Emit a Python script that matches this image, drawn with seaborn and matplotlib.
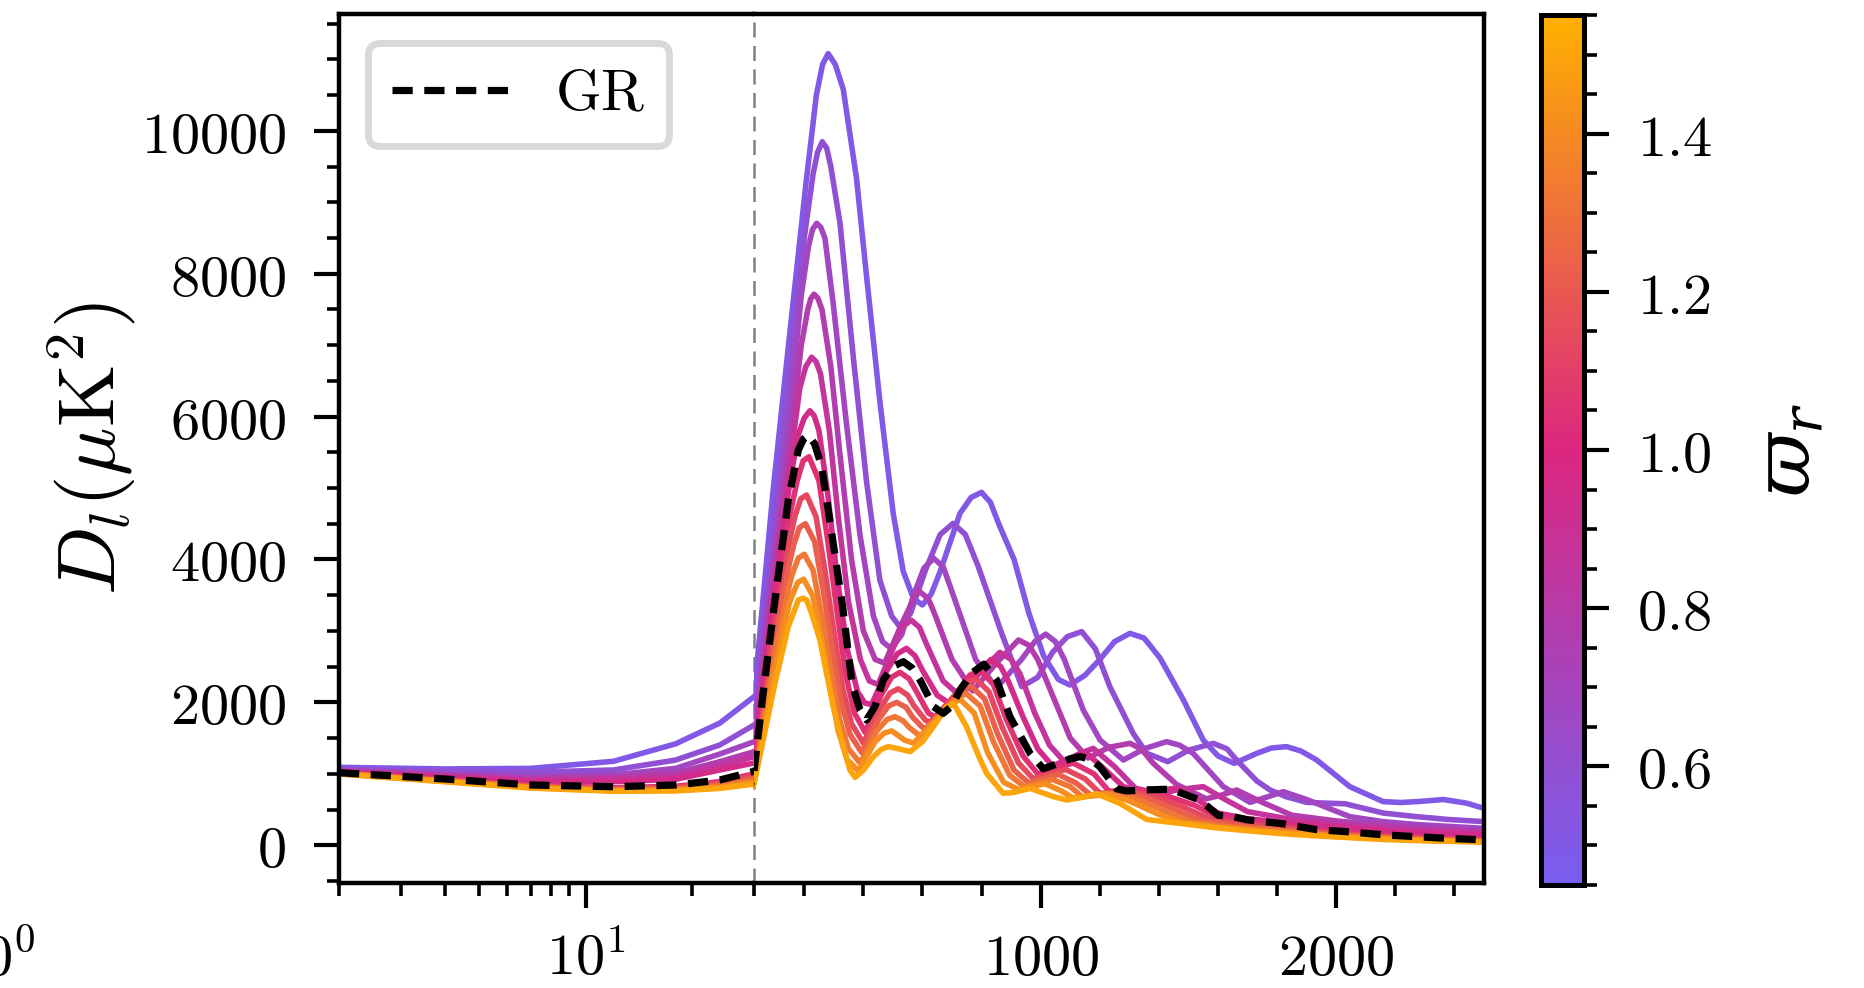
import numpy as np
import pandas as pd
import matplotlib
matplotlib.use("Agg")
import matplotlib.pyplot as plt
import seaborn as sns
from matplotlib.colors import LinearSegmentedColormap, Normalize
from matplotlib.cm import ScalarMappable
from matplotlib.ticker import FixedLocator, FixedFormatter, MultipleLocator, NullFormatter

# ---------------- data ----------------
varpi = [0.50, 0.59, 0.68, 0.77, 0.86, 0.95, 1.05, 1.14, 1.23, 1.32, 1.41, 1.50]

ell_low = [2, 4, 7, 12, 18, 24]

low_c1 = [1091, 1068, 1076, 1175, 1420, 1710]
ell_c1 = [30, 60, 95, 150, 206, 241, 262, 281, 305, 332, 377, 411, 456, 501, 535, 570, 600, 630, 660, 727,
          765, 800, 830, 860, 910, 960, 1010, 1060, 1099, 1150, 1200, 1250, 1302, 1350, 1404, 1483, 1550, 1600,
          1655, 1731, 1780, 1832, 1880, 1934, 2046, 2159, 2220, 2290, 2362, 2440, 2500]
dl_c1 = [2079, 3420, 4983, 7127, 9270, 10500, 10930, 11083, 10930, 10583, 9333, 7958, 6208, 4646, 3833, 3450,
         3364, 3520, 3833, 4646, 4870, 4940, 4800, 4480, 4000, 3250, 2650, 2320, 2243, 2380, 2600, 2850, 2966,
         2900, 2620, 2033, 1473, 1250, 1146, 1286, 1360, 1380, 1320, 1193, 820, 610, 598, 615, 640, 590, 516]

low_c2 = [1062, 1039, 1023, 1053, 1193, 1403]
ell_c2 = [30, 60, 100, 150, 200, 230, 245, 261, 276, 290, 321, 366, 411, 456, 496, 525, 560, 610, 660, 704,
          745, 789, 868, 936, 990, 1040, 1090, 1139, 1185, 1234, 1313, 1359, 1430, 1500, 1584, 1630, 1663,
          1731, 1776, 1830, 1900, 1960, 2030, 2100, 2159, 2272, 2380, 2500]
dl_c2 = [1683, 3000, 4500, 6700, 8500, 9400, 9700, 9849, 9760, 9500, 8708, 6833, 5083, 3708, 3208, 3050, 3250,
         3850, 4350, 4506, 4350, 3900, 2966, 2220, 2350, 2700, 2920, 2990, 2750, 2220, 1566, 1286, 1170, 1330,
         1426, 1350, 1193, 900, 773, 680, 600, 590, 580, 510, 450, 400, 360, 330]

low_c3 = [1046, 996, 960, 985, 1076, 1277]
ell_c3 = [30, 60, 100, 150, 190, 215, 228, 242, 256, 270, 298, 343, 389, 434, 465, 495, 530, 570, 605, 638,
          670, 700, 780, 850, 935, 980, 1017, 1050, 1080, 1144, 1201, 1280, 1350, 1426, 1470, 1516, 1618,
          1708, 1770, 1821, 1900, 2046, 2159, 2272, 2500]
dl_c3 = [1449, 2700, 4100, 6000, 7700, 8400, 8620, 8707, 8650, 8500, 7583, 5895, 4333, 3208, 2850, 2750, 2950,
         3500, 3880, 4016, 3900, 3550, 2600, 2200, 2600, 2850, 2955, 2850, 2600, 1893, 1473, 1193, 1350, 1450,
         1400, 1286, 820, 600, 680, 750, 640, 400, 330, 290, 236]

low_c4 = [1036, 977, 935, 955, 1007, 1170]
ell_c4 = [30, 60, 100, 150, 190, 212, 222, 233, 246, 260, 290, 320, 360, 400, 440, 472, 530, 584, 620, 640,
          700, 770, 850, 925, 960, 990, 1050, 1100, 1160, 1230, 1302, 1340, 1380, 1460, 1560, 1610, 1663,
          1750, 1850, 2000, 2200, 2500]
dl_c4 = [1309, 2500, 3900, 5600, 7000, 7500, 7650, 7715, 7660, 7500, 6700, 5500, 4000, 3000, 2600, 2550, 3100,
         3573, 3450, 3250, 2600, 2160, 2550, 2873, 2800, 2600, 2000, 1500, 1220, 1370, 1426, 1350, 1150, 850,
         650, 700, 773, 600, 420, 340, 260, 190]

low_c5 = [1030, 964, 912, 925, 960, 1110]
ell_c5 = [30, 60, 100, 150, 185, 205, 225, 240, 255, 285, 315, 350, 390, 420, 450, 500, 530, 562, 590, 610,
          670, 730, 800, 862, 900, 930, 980, 1030, 1080, 1130, 1178, 1250, 1320, 1400, 1470, 1550, 1620,
          1700, 1850, 2000, 2200, 2500]
dl_c5 = [1239, 2350, 3700, 5300, 6400, 6700, 6832, 6770, 6600, 5800, 4600, 3400, 2600, 2300, 2250, 2750, 3050,
         3150, 3050, 2850, 2300, 2080, 2450, 2700, 2600, 2400, 1850, 1400, 1170, 1280, 1356, 1100, 800, 720,
         780, 820, 650, 470, 360, 290, 220, 166]

low_c6 = [1024, 950, 888, 890, 923, 1053]
ell_c6 = [30, 60, 100, 150, 180, 200, 219, 234, 250, 280, 310, 345, 380, 405, 428, 480, 515, 546, 575, 600,
          650, 700, 770, 832, 865, 890, 940, 990, 1040, 1100, 1155, 1220, 1280, 1350, 1400, 1460, 1530,
          1600, 1700, 1850, 2000, 2200, 2500]
dl_c6 = [1151, 2200, 3550, 5050, 5750, 5980, 6082, 6010, 5800, 4900, 3800, 2750, 2150, 1990, 1970, 2450, 2680,
         2756, 2650, 2450, 2100, 1960, 2350, 2600, 2500, 2300, 1800, 1350, 1110, 1220, 1290, 1050, 820, 740,
         770, 797, 640, 450, 370, 310, 250, 190, 143]

low_c7 = [1010, 920, 838, 805, 825, 890]
ell_c7 = [30, 60, 100, 150, 176, 196, 216, 250, 280, 310, 340, 370, 406, 460, 495, 524, 555, 580, 620, 645,
          720, 760, 795, 840, 885, 940, 990, 1050, 1110, 1180, 1230, 1290, 1340, 1420, 1520, 1600, 1700,
          1820, 1930, 2050, 2160, 2270, 2380, 2500]
dl_c7 = [1000, 2000, 3300, 4600, 5100, 5380, 5439, 5100, 4250, 3300, 2400, 1850, 1580, 2100, 2350, 2420, 2330,
         2150, 1850, 1790, 2150, 2380, 2450, 2250, 1750, 1250, 1000, 1080, 1150, 1000, 760, 750, 770, 700,
         560, 390, 330, 280, 205, 170, 135, 110, 90, 70]

low_c8 = [1007, 912, 828, 792, 810, 865]
ell_c8 = [30, 60, 100, 150, 168, 188, 208, 240, 270, 300, 330, 360, 400, 455, 490, 518, 550, 570, 610, 625,
          700, 745, 781, 825, 870, 925, 975, 1030, 1085, 1150, 1200, 1260, 1310, 1390, 1490, 1570, 1680,
          1800, 1930, 2050, 2160, 2270, 2380, 2500]
dl_c8 = [965, 1850, 3050, 4250, 4600, 4850, 4903, 4600, 3850, 3000, 2200, 1700, 1430, 1900, 2130, 2190, 2100,
         1960, 1750, 1720, 2050, 2270, 2330, 2150, 1650, 1150, 930, 1000, 1060, 930, 730, 730, 755, 680, 520,
         370, 300, 250, 185, 150, 120, 100, 80, 65]

low_c9 = [1004, 905, 820, 780, 795, 845]
ell_c9 = [30, 60, 100, 150, 164, 184, 204, 235, 265, 295, 325, 355, 394, 450, 485, 513, 545, 565, 600, 610,
          690, 730, 766, 810, 855, 910, 960, 1010, 1060, 1120, 1170, 1230, 1280, 1360, 1460, 1540, 1650,
          1780, 1930, 2050, 2160, 2270, 2380, 2500]
dl_c9 = [935, 1750, 2850, 3950, 4200, 4450, 4501, 4250, 3550, 2750, 2000, 1550, 1300, 1750, 1950, 2000, 1930,
         1800, 1650, 1630, 1950, 2170, 2220, 2050, 1550, 1050, 870, 940, 990, 870, 700, 710, 740, 660, 490,
         350, 280, 230, 170, 135, 110, 90, 72, 58]

low_c10 = [1002, 898, 812, 770, 782, 825]
ell_c10 = [30, 60, 100, 150, 160, 180, 200, 230, 260, 290, 320, 350, 389, 445, 480, 507, 535, 555, 585, 595,
           670, 715, 749, 795, 840, 895, 945, 995, 1040, 1100, 1140, 1200, 1250, 1330, 1430, 1510, 1620,
           1760, 1930, 2050, 2160, 2270, 2380, 2500]
dl_c10 = [905, 1650, 2650, 3650, 3800, 4020, 4073, 3850, 3200, 2450, 1750, 1350, 1150, 1600, 1760, 1800, 1740,
          1650, 1550, 1540, 1850, 2070, 2120, 1950, 1450, 980, 820, 880, 920, 820, 680, 700, 730, 640, 460,
          330, 265, 215, 155, 120, 100, 80, 65, 52]

low_c11 = [1000, 893, 806, 762, 770, 808]
ell_c11 = [30, 60, 100, 150, 158, 178, 198, 228, 258, 288, 315, 345, 383, 440, 470, 496, 520, 540, 570, 650,
           700, 728, 775, 820, 875, 925, 975, 1015, 1070, 1110, 1170, 1220, 1300, 1400, 1480, 1600, 1740,
           1930, 2050, 2160, 2270, 2380, 2500]
dl_c11 = [880, 1550, 2450, 3400, 3480, 3680, 3724, 3500, 2900, 2200, 1600, 1200, 1040, 1450, 1570, 1600, 1530,
          1470, 1430, 1780, 1990, 2040, 1850, 1300, 880, 780, 830, 860, 760, 660, 690, 725, 620, 430, 320,
          250, 200, 145, 110, 90, 72, 58, 48]

low_c12 = [998, 888, 800, 755, 760, 795]
ell_c12 = [30, 60, 100, 146, 180, 197, 208, 225, 253, 298, 332, 355, 372, 400, 434, 460, 484, 520, 558, 600,
           637, 682, 706, 749, 790, 817, 873, 910, 964, 1043, 1088, 1140, 1190, 1268, 1359, 1483, 1600, 1708,
           1820, 1934, 2050, 2159, 2300, 2500]
dl_c12 = [855, 1450, 2250, 3060, 3433, 3457, 3433, 3246, 2873, 1940, 1380, 1050, 950, 1050, 1240, 1340, 1380,
          1350, 1310, 1450, 1660, 1940, 1980, 1660, 1250, 1006, 726, 740, 796, 680, 633, 670, 720, 586, 360,
          300, 240, 200, 160, 130, 105, 80, 62, 45]

low_gr = [1015, 927, 843, 819, 843, 913]
ell_gr = [30, 60, 101, 146, 180, 198, 214, 235, 259, 293, 330, 362, 389, 411, 440, 467, 500, 535, 565, 592,
          637, 670, 700, 727, 770, 808, 851, 896, 964, 1009, 1060, 1100, 1133, 1170, 1200, 1257, 1290, 1360,
          1440, 1540, 1600, 1650, 1700, 1820, 1930, 2050, 2160, 2270, 2380, 2500]
dl_gr = [1035, 2100, 3433, 4833, 5533, 5690, 5743, 5620, 5300, 4366, 3340, 2250, 1893, 1753, 1950, 2313, 2500,
         2570, 2480, 2313, 1940, 1846, 1950, 2173, 2420, 2535, 2313, 1800, 1286, 1070, 1146, 1210, 1240, 1200,
         1100, 790, 760, 775, 785, 630, 420, 400, 355, 300, 220, 185, 145, 120, 95, 75]

y_ticks = [0, 2000, 4000, 6000, 8000, 10000]
y_ticklabels = [r"$0$", r"$2000$", r"$4000$", r"$6000$", r"$8000$", r"$10000$"]
lin_ticks = [1000, 2000]
lin_ticklabels = [r"$1000$", r"$2000$"]
log_minor = [2, 3, 4, 5, 6, 7, 8, 9, 20, 30]
cb_ticks = [0.6, 0.8, 1.0, 1.2, 1.4]
cb_ticklabels = [r"$0.6$", r"$0.8$", r"$1.0$", r"$1.2$", r"$1.4$"]

lows = [low_c1, low_c2, low_c3, low_c4, low_c5, low_c6, low_c7, low_c8, low_c9, low_c10, low_c11, low_c12]
ells = [ell_c1, ell_c2, ell_c3, ell_c4, ell_c5, ell_c6, ell_c7, ell_c8, ell_c9, ell_c10, ell_c11, ell_c12]
dls = [dl_c1, dl_c2, dl_c3, dl_c4, dl_c5, dl_c6, dl_c7, dl_c8, dl_c9, dl_c10, dl_c11, dl_c12]

rows = []
for w, lo, el, dl in zip(varpi, lows, ells, dls):
    for l, d in zip(ell_low + el, lo + dl):
        rows.append((w, l, d))
df = pd.DataFrame(rows, columns=["varpi", "ell", "Dl"])
gr = pd.DataFrame({"ell": ell_low + ell_gr, "Dl": low_gr + dl_gr})

# ---------------- style ----------------
sns.set_style("ticks")
plt.rcParams.update({
    "mathtext.fontset": "cm",
    "font.family": ["DejaVu Serif"],
    "axes.linewidth": 1.6,
    "axes.edgecolor": "black",
    "axes.labelcolor": "black",
    "text.color": "black",
    "xtick.color": "black",
    "ytick.color": "black",
    "lines.solid_capstyle": "round",
    "lines.solid_joinstyle": "round",
})

cmap = LinearSegmentedColormap.from_list("ibm3", ["#785EF0", "#DC267F", "#FFB000"])
norm = Normalize(vmin=0.45, vmax=1.55)

W, H = 1864, 988
fig = plt.figure(figsize=(W / 200, H / 200), dpi=200)


def fx(px):
    return px / W


def fy(px):
    return 1 - px / H


left, mid, right, top, bottom = 339, 754, 1484, 14, 883
ax_log = fig.add_axes([fx(left), fy(bottom), fx(mid - left), (bottom - top) / H])
ax_lin = fig.add_axes([fx(mid), fy(bottom), fx(right - mid), (bottom - top) / H])

FS = 21
for ax in (ax_log, ax_lin):
    sns.lineplot(data=df, x="ell", y="Dl", hue="varpi", palette=cmap, hue_norm=norm,
                 estimator=None, errorbar=None, legend=False, linewidth=2.0, ax=ax)
    sns.lineplot(data=gr, x="ell", y="Dl", color="black", linestyle=(0, (2.8, 1.6)),
                 linewidth=2.6, estimator=None, errorbar=None, legend=False, ax=ax, label="GR")
    ax.set_xlabel("")
    ax.set_ylabel("")
    ax.set_ylim(-529, 11637)
    for s in ax.spines.values():
        s.set_linewidth(1.6)

ax_log.set_xscale("log")
ax_log.set_xlim(2, 30)
ax_lin.set_xlim(30, 2500)
ax_log.spines["right"].set_visible(False)
ax_lin.spines["left"].set_visible(False)

ax_log.xaxis.set_major_locator(FixedLocator([10]))
ax_log.xaxis.set_major_formatter(FixedFormatter([r"$10^1$"]))
ax_log.xaxis.set_minor_locator(FixedLocator(log_minor))
ax_log.xaxis.set_minor_formatter(NullFormatter())
ax_log.yaxis.set_major_locator(FixedLocator(y_ticks))
ax_log.yaxis.set_major_formatter(FixedFormatter(y_ticklabels))
ax_log.yaxis.set_minor_locator(MultipleLocator(500))

ax_lin.xaxis.set_major_locator(FixedLocator(lin_ticks))
ax_lin.xaxis.set_major_formatter(FixedFormatter(lin_ticklabels))
ax_lin.xaxis.set_minor_locator(MultipleLocator(200))
ax_lin.tick_params(axis="y", which="both", left=False, right=False, labelleft=False)

for ax in (ax_log, ax_lin):
    ax.tick_params(which="both", direction="out", top=False, right=False)
    ax.tick_params(which="major", length=9, width=1.5, labelsize=FS)
    ax.tick_params(which="minor", length=4.5, width=1.3)
    ax.tick_params(axis="x", which="major", pad=24)
    for t in ax.xaxis.get_major_ticks():
        t.label1.set_verticalalignment("baseline")
ax_log.tick_params(axis="y", which="major", pad=10)

ax_lin.axvline(30, color="0.5", linewidth=0.9, linestyle=(0, (6.0, 3.4)), clip_on=False, zorder=0.5)

fig.text(fx(-5.5), fy(975), r"$10^0$", ha="center", va="baseline", fontsize=FS)

ax_log.set_ylabel(r"$D_l(\mu\mathrm{K}^2)$", fontsize=29)
ax_log.yaxis.set_label_coords(-0.485, 0.5)

gr_line = ax_log.lines[-1]
leg = ax_log.legend([gr_line], [r"$\mathrm{GR}$"], loc="upper left", fontsize=FS,
                    fancybox=True, framealpha=1.0, edgecolor="0.85")
leg.get_frame().set_linewidth(2.5)

cax = fig.add_axes([fx(1541), fy(885), fx(43), 870 / H])
sm = ScalarMappable(norm=norm, cmap=cmap)
cbar = fig.colorbar(sm, cax=cax)
cbar.outline.set_linewidth(1.8)
cbar.set_ticks(cb_ticks)
cbar.ax.set_yticklabels(cb_ticklabels)
cbar.ax.yaxis.set_minor_locator(MultipleLocator(0.05))
cbar.ax.tick_params(which="major", length=9, width=1.5, labelsize=FS, pad=10)
cbar.ax.tick_params(which="minor", length=4.5, width=1.3)
cbar.set_label(r"$\varpi_r$", fontsize=28, math_fontfamily="dejavuserif")
cbar.ax.yaxis.set_label_coords(4.9, 0.5)

fig.savefig("out.png", dpi=200)
